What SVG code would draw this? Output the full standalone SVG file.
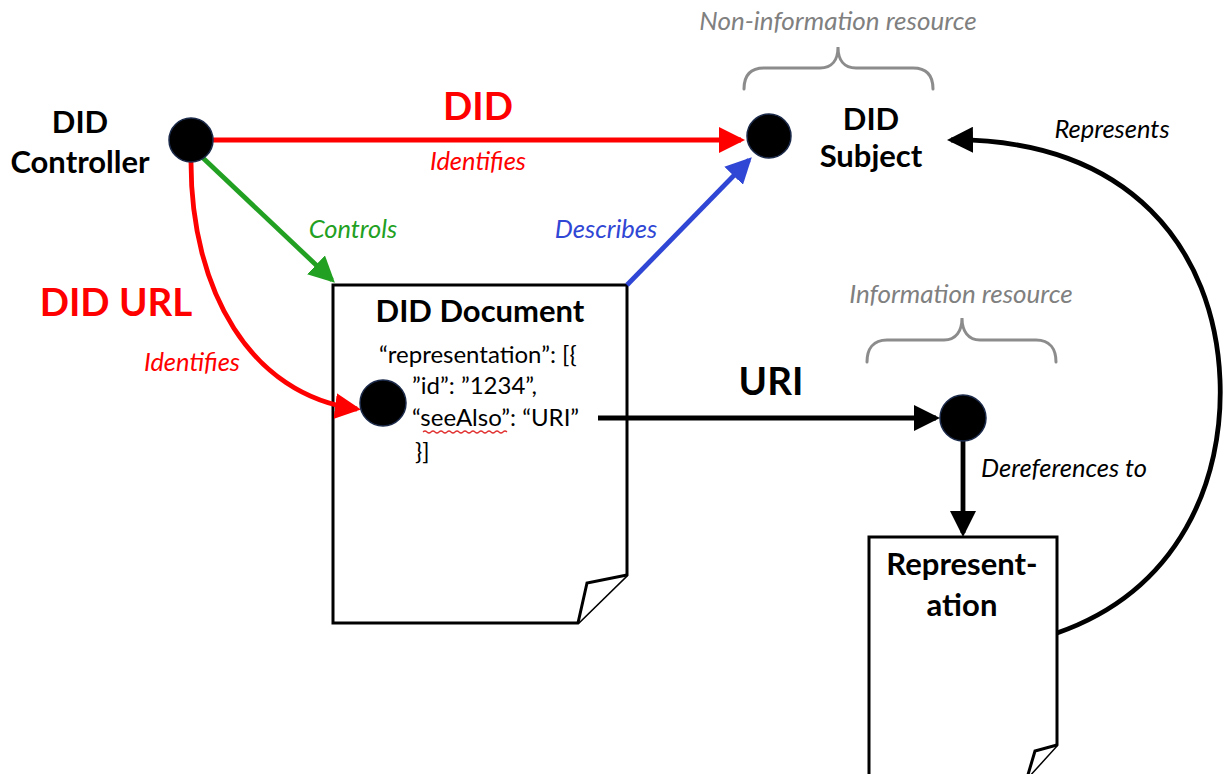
<svg xmlns="http://www.w3.org/2000/svg" width="1224" height="774" viewBox="0 0 1224 774">
  <style>
    text { font-family: Lato, "Open Sans", "Liberation Sans", sans-serif; }
    .title { font-weight: bold; font-size: 31px; fill: #000; text-anchor: middle; }
    .big { font-weight: bold; font-size: 38.5px; text-anchor: middle; }
    .lbl { font-style: italic; font-size: 25.5px; text-anchor: middle; }
    .note { font-style: italic; font-size: 26px; fill: #808080; text-anchor: middle; }
    .code { font-size: 24px; fill: #000; }
    .dot { fill: #000; stroke: #1c2a4a; stroke-width: 1.5; }
    .doc { fill: #fff; stroke: #000; stroke-width: 3; stroke-linejoin: miter; }
    .brace { fill: none; stroke: #8c8c8c; stroke-width: 3; stroke-linecap: round; }
    .edge { fill: none; stroke-width: 4.8; }
  </style>
  <defs>
    <marker id="ah-red" viewBox="0 0 26 26" refX="22" refY="13" markerWidth="26" markerHeight="26" markerUnits="userSpaceOnUse" orient="auto">
      <path d="M0,0 L26,13 L0,26 z" fill="#ff0000"/>
    </marker>
    <marker id="ah-green" viewBox="0 0 26 26" refX="22" refY="13" markerWidth="26" markerHeight="26" markerUnits="userSpaceOnUse" orient="auto">
      <path d="M0,0 L26,13 L0,26 z" fill="#22a022"/>
    </marker>
    <marker id="ah-blue" viewBox="0 0 26 26" refX="22" refY="13" markerWidth="26" markerHeight="26" markerUnits="userSpaceOnUse" orient="auto">
      <path d="M0,0 L26,13 L0,26 z" fill="#3046d4"/>
    </marker>
    <marker id="ah-black" viewBox="0 0 26 26" refX="22" refY="13" markerWidth="26" markerHeight="26" markerUnits="userSpaceOnUse" orient="auto">
      <path d="M0,0 L26,13 L0,26 z" fill="#000"/>
    </marker>
  </defs>

  <rect width="1224" height="774" fill="#fff"/>

  <!-- documents drawn first so arrows sit on top -->
  <g id="did-document">
    <path class="doc" d="M333,285 H627 V575 L578,623 H333 Z"/>
    <path class="doc" d="M627,575 L587,583 L578,623"/>
    <text class="title" x="480" y="322">DID Document</text>
    <text class="code" x="379" y="363">“representation”: [{</text>
    <text class="code" x="412" y="394">”id”: ”1234”,</text>
    <text class="code" x="412" y="426">“seeAlso”: “URI”</text>
    <path d="M423,432 q2,-2 4,0 t4,0 t4,0 t4,0 t4,0 t4,0 t4,0 t4,0 t4,0 t4,0 t4,0 t4,0 t4,0 t4,0 t4,0 t4,0 t4,0 t4,0 t4,0 t4,0 t4,0" fill="none" stroke="#e03030" stroke-width="1.2"/>
    <text class="code" x="415" y="460">}]</text>
  </g>

  <g id="representation">
    <path class="doc" d="M869,537 H1057 V745 L1027,778 H869 Z"/>
    <path class="doc" d="M1057,745 L1035,751 L1027,778"/>
    <text class="title" x="962" y="575">Represent-</text>
    <text class="title" x="962" y="616">ation</text>
  </g>

  <!-- connectors -->
  <g id="connectors">
    <!-- DID: controller to subject -->
    <line class="edge" stroke="#ff0000" x1="212" y1="140" x2="741" y2="140" marker-end="url(#ah-red)"/>
    <!-- Controls -->
    <line class="edge" stroke="#22a022" x1="203" y1="158" x2="332" y2="280" marker-end="url(#ah-green)"/>
    <!-- Describes -->
    <line class="edge" stroke="#3046d4" x1="627" y1="285" x2="749" y2="160" marker-end="url(#ah-blue)"/>
    <!-- DID URL -->
    <path class="edge" stroke="#ff0000" d="M191,162 C191,290 250,395 357,409" marker-end="url(#ah-red)"/>
    <!-- URI -->
    <line class="edge" stroke="#000" x1="598" y1="418" x2="936" y2="418" marker-end="url(#ah-black)"/>
    <!-- Dereferences to -->
    <line class="edge" stroke="#000" x1="963" y1="440" x2="963" y2="533" marker-end="url(#ah-black)"/>
    <!-- Represents -->
    <path class="edge" stroke="#000" d="M1057,633 C1180,590 1224,480 1220,380 C1215,250 1130,138 951,140" marker-end="url(#ah-black)"/>
  </g>

  <g id="did-controller">
    <circle class="dot" cx="191" cy="140" r="22"/>
    <text class="title" x="80" y="133">DID</text>
    <text class="title" x="80" y="173">Controller</text>
  </g>

  <g id="did-subject">
    <circle class="dot" cx="769" cy="136" r="22"/>
    <text class="title" x="871" y="130">DID</text>
    <text class="title" x="871" y="167">Subject</text>
  </g>

  <g id="representation-entry">
    <circle class="dot" cx="383" cy="403" r="23"/>
  </g>

  <g id="uri-target">
    <circle class="dot" cx="963" cy="418" r="23"/>
  </g>

  <g id="non-information-resource">
    <text class="note" x="838" y="30">Non-information resource</text>
    <path class="brace" d="M744,89 C744,76 750,68 764,68 L820,68 C832,68 838,60 838,47 C838,60 844,68 856,68 L913,68 C927,68 933,76 933,89"/>
  </g>

  <g id="information-resource">
    <text class="note" x="961" y="303">Information resource</text>
    <path class="brace" d="M867,362 C867,349 873,340 887,340 L944,340 C956,340 962,331 962,318 C962,331 968,340 980,340 L1036,340 C1050,340 1056,349 1056,362"/>
  </g>

  <!-- edge labels -->
  <g id="labels">
    <text class="big" fill="#ff0000" x="478" y="120">DID</text>
    <text class="lbl" fill="#ff0000" x="478" y="170">Identifies</text>
    <text class="lbl" fill="#22a022" x="353" y="238">Controls</text>
    <text class="lbl" fill="#3046d4" x="606" y="238">Describes</text>
    <text class="big" fill="#ff0000" x="116" y="316">DID URL</text>
    <text class="lbl" fill="#ff0000" x="192" y="371">Identifies</text>
    <text class="big" fill="#000" x="771" y="395">URI</text>
    <text class="lbl" fill="#000" x="1064" y="477">Dereferences to</text>
    <text class="lbl" fill="#000" x="1112" y="138">Represents</text>
  </g>
</svg>
